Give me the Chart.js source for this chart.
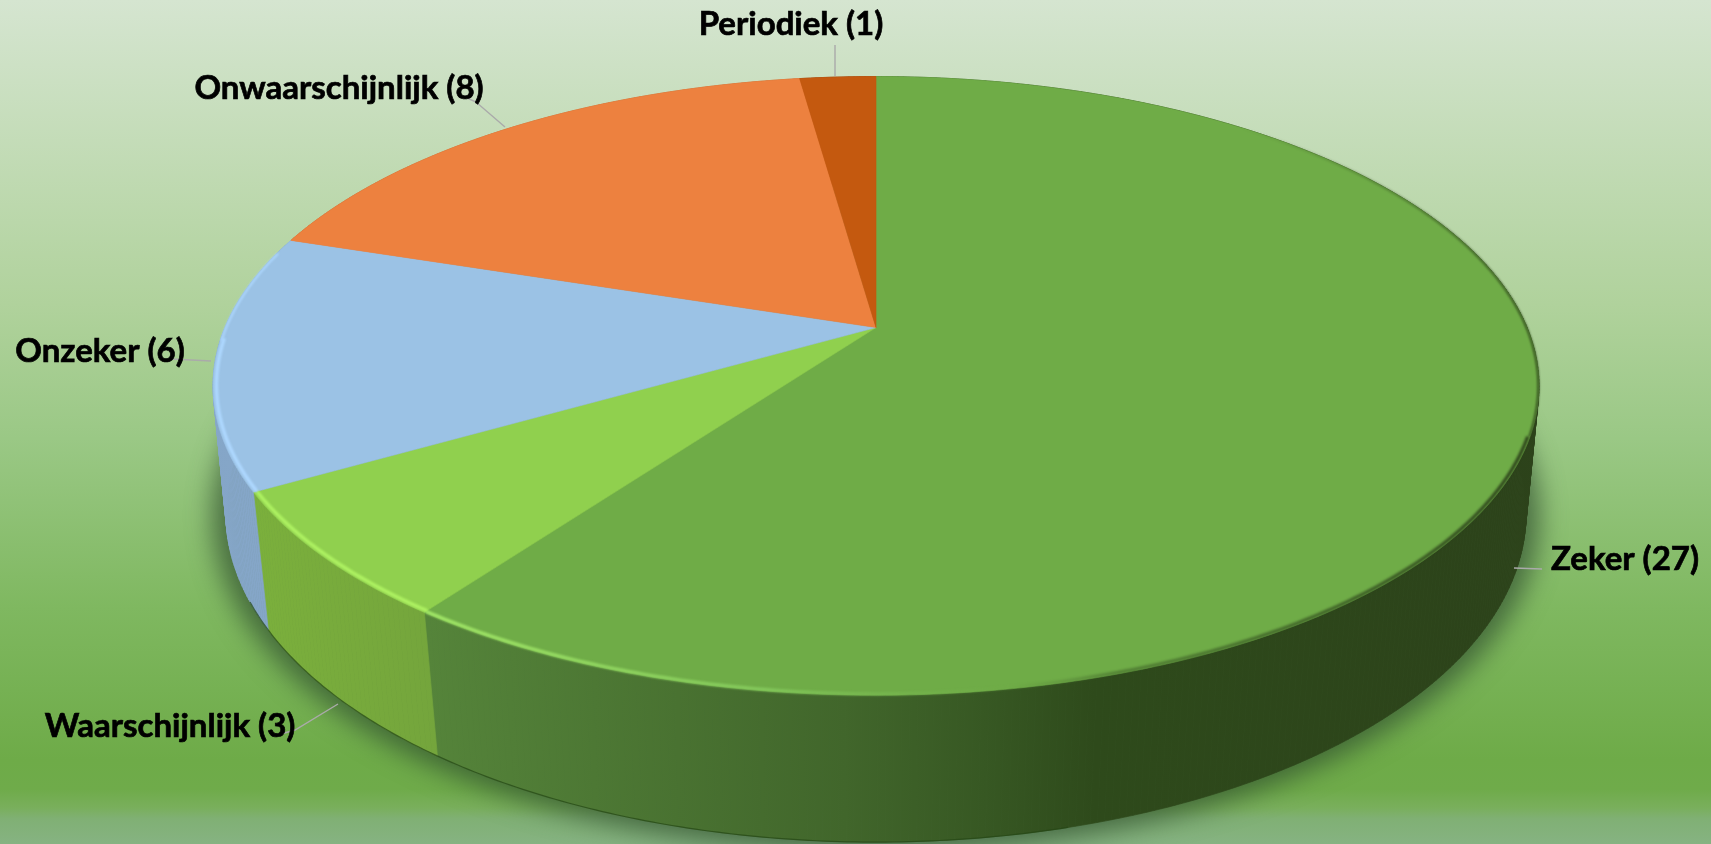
<!DOCTYPE html>
<html>
<head>
<meta charset="utf-8">
<title>Pie</title>
<script src="https://cdn.jsdelivr.net/npm/chart.js@4"></script>
<style>
  html, body { margin: 0; padding: 0; overflow: hidden; background: #7fb070; }
  canvas { display: block; }
</style>
</head>
<body>
<canvas id="pieChart" width="1711" height="844"></canvas>
<script>
// chart data
const categories = ['Zeker', 'Waarschijnlijk', 'Onzeker', 'Onwaarschijnlijk', 'Periodiek'];
const counts = [27, 3, 6, 8, 1];
const faceColors = ['#6fac47', '#90d04e', '#9bc2e5', '#ed813f', '#c4590f'];

// side wall colours, left to right
const wallColors = [
  [[0, '#55843a'], [0.375, '#41662b'], [0.5, '#375823'], [0.6, '#2e4a1b'], [1, '#2c421a']],
  [[0, '#7bb03c'], [1, '#74a53c']],
  [[0, '#85a6c8'], [1, '#85a6c8']],
  [[0, '#c06a30'], [1, '#c06a30']],
  [[0, '#8a400c'], [1, '#8a400c']]
];

// perspective of the top and bottom disc, as factors of the arc radius
const topDisc = { rx: 1.988, ry: 0.911, c: -0.1887, dy: 0 };
const bottomDisc = { rx: 1.954, ry: 0.973, c: -0.176, dy: 0.3905 };

// label centres and leader lines (chart pixels)
const labelCenters = [[1625, 559], [170, 726], [100, 351], [339, 88], [791, 24]];
const leaders = [
  [[1514, 568], [1542, 569]],
  [[338, 704], [295, 730], [281, 734]],
  [[172, 359], [211, 361]],
  [[465, 97], [476, 102], [505, 127]],
  [[835, 45], [835, 76]]
];

function project(arc, angle, disc, scale) {
  let ux = Math.cos(angle) * scale;
  let uy = Math.sin(angle) * scale;
  let den = 1 + disc.c * uy;
  return [
    arc.x + disc.rx * arc.outerRadius * ux / den,
    arc.y + disc.dy * arc.outerRadius + disc.ry * arc.outerRadius * uy / den
  ];
}

function rimPoints(arc, from, to, disc, scale) {
  let pts = [];
  let n = Math.max(2, Math.ceil(Math.abs(to - from) / 0.01));
  for (let i = 0; i <= n; i++) {
    pts.push(project(arc, from + (to - from) * i / n, disc, scale));
  }
  return pts;
}

function tracePath(ctx, pts) {
  ctx.moveTo(pts[0][0], pts[0][1]);
  for (let i = 1; i < pts.length; i++) {
    ctx.lineTo(pts[i][0], pts[i][1]);
  }
}

function xGradient(ctx, x0, x1, stops) {
  let g = ctx.createLinearGradient(x0, 0, x1, 0);
  stops.forEach(function (s) { g.addColorStop(s[0], s[1]); });
  return g;
}

const backgroundPlugin = {
  id: 'background',
  beforeDraw(chart) {
    const ctx = chart.ctx;
    let g = ctx.createLinearGradient(0, 0, 0, chart.height);
    g.addColorStop(0, '#d5e5d0');
    g.addColorStop(0.36, '#b0d29c');
    g.addColorStop(0.52, '#9ac885');
    g.addColorStop(0.72, '#7fb860');
    g.addColorStop(0.9, '#6eab48');
    g.addColorStop(0.935, '#6fab4a');
    g.addColorStop(0.957, '#79af5c');
    g.addColorStop(0.97, '#80b074');
    g.addColorStop(1, '#86b382');
    ctx.fillStyle = g;
    ctx.fillRect(0, 0, chart.width, chart.height);
  }
};

const perspectivePie = {
  id: 'perspectivePie',
  // the arcs come from the doughnut controller, only the drawing is replaced
  beforeDatasetDraw(chart) {
    const ctx = chart.ctx;
    const arcs = chart.getDatasetMeta(0).data;
    const first = arcs[0];

    // ground shadow
    ctx.save();
    ctx.filter = 'blur(13px)';
    ctx.fillStyle = 'rgba(45, 75, 45, 0.7)';
    ctx.beginPath();
    tracePath(ctx, rimPoints(first, 0, Math.PI * 2, bottomDisc, 1.02));
    ctx.fill();
    ctx.restore();

    // side walls, one quad per step so the outline follows the tangent
    arcs.forEach(function (arc, i) {
      let top = rimPoints(arc, arc.startAngle, arc.endAngle, topDisc, 1);
      let bottom = rimPoints(arc, arc.startAngle, arc.endAngle, bottomDisc, 1);
      let xs = top.concat(bottom).map(function (p) { return p[0]; });
      let paint = i === 0
        ? xGradient(ctx, 428, 1540, wallColors[i])
        : xGradient(ctx, Math.min.apply(null, xs), Math.max.apply(null, xs), wallColors[i]);
      ctx.fillStyle = paint;
      ctx.strokeStyle = paint;
      ctx.lineWidth = 0.7;
      for (let k = 0; k < top.length - 1; k++) {
        ctx.beginPath();
        tracePath(ctx, [top[k], top[k + 1], bottom[k + 1], bottom[k]]);
        ctx.closePath();
        ctx.fill();
        ctx.stroke();
      }
    });

    // thin dark line where the wall meets the ground
    ctx.strokeStyle = 'rgba(35, 70, 20, 0.7)';
    ctx.lineWidth = 1.2;
    ctx.beginPath();
    tracePath(ctx, rimPoints(first, Math.PI * 0.42, Math.PI * 0.86, bottomDisc, 1));
    ctx.stroke();

    // top face
    arcs.forEach(function (arc) {
      let rim = rimPoints(arc, arc.startAngle, arc.endAngle, topDisc, 1);
      let slice = [[arc.x, arc.y]].concat(rim);
      ctx.fillStyle = arc.options.backgroundColor;
      ctx.strokeStyle = arc.options.backgroundColor;
      ctx.lineWidth = 0.6;
      ctx.beginPath();
      tracePath(ctx, slice);
      ctx.closePath();
      ctx.fill();
      ctx.stroke();
    });

    // bevel on the rim
    ctx.save();
    ctx.filter = 'blur(1.2px)';
    ctx.lineWidth = 3.5;
    ctx.lineJoin = 'round';

    const z = arcs[0];
    // front of the big slice, light on the left and dark on the right
    ctx.strokeStyle = xGradient(ctx, 428, 1542, [
      [0, 'rgba(165, 235, 105, 0.95)'],
      [0.3, 'rgba(135, 205, 95, 0.85)'],
      [0.52, 'rgba(112, 172, 72, 0.3)'],
      [0.62, 'rgba(50, 80, 32, 0.45)'],
      [1, 'rgba(44, 66, 26, 0.95)']
    ]);
    ctx.beginPath();
    tracePath(ctx, rimPoints(z, 0.35, z.endAngle, topDisc, 0.997));
    ctx.stroke();

    // back right edge, fades out towards the top
    ctx.lineWidth = 2;
    ctx.strokeStyle = xGradient(ctx, 1240, 1542, [
      [0, 'rgba(44, 66, 26, 0)'],
      [0.6, 'rgba(44, 66, 26, 0.5)'],
      [1, 'rgba(44, 66, 26, 0.95)']
    ]);
    ctx.beginPath();
    tracePath(ctx, rimPoints(z, -1.0, 0.35, topDisc, 0.999));
    ctx.stroke();

    ctx.lineWidth = 3.5;
    const w = arcs[1];
    ctx.strokeStyle = '#aef262';
    ctx.beginPath();
    tracePath(ctx, rimPoints(w, w.startAngle, w.endAngle, topDisc, 0.995));
    ctx.stroke();

    const o = arcs[2];
    ctx.strokeStyle = '#aed8ff';
    ctx.beginPath();
    tracePath(ctx, rimPoints(o, o.startAngle, o.endAngle - 0.35, topDisc, 0.995));
    ctx.stroke();
    ctx.lineWidth = 2;
    ctx.beginPath();
    tracePath(ctx, rimPoints(o, o.endAngle - 0.36, o.endAngle - 0.05, topDisc, 0.998));
    ctx.stroke();
    ctx.restore();

    return false;
  },
  afterDatasetsDraw(chart) {
    const ctx = chart.ctx;
    // leader lines
    ctx.strokeStyle = '#aaaaaa';
    ctx.lineWidth = 1.4;
    leaders.forEach(function (line) {
      ctx.beginPath();
      tracePath(ctx, line);
      ctx.stroke();
    });
    // labels
    ctx.fillStyle = '#000000';
    ctx.strokeStyle = '#000000';
    ctx.lineWidth = 0.7;
    ctx.textAlign = 'center';
    ctx.textBaseline = 'middle';
    ctx.font = 'bold 33px Lato';
    categories.forEach(function (name, i) {
      let text = name + ' (' + counts[i] + ')';
      ctx.fillText(text, labelCenters[i][0], labelCenters[i][1]);
      ctx.strokeText(text, labelCenters[i][0], labelCenters[i][1]);
    });
  }
};

const pieChart = new Chart(document.getElementById('pieChart').getContext('2d'), {
  type: 'pie',
  data: {
    labels: categories,
    datasets: [{
      data: counts,
      backgroundColor: faceColors,
      borderWidth: 0
    }]
  },
  options: {
    responsive: false,
    animation: false,
    events: [],
    layout: { padding: { left: 41, bottom: 189 } },
    plugins: {
      legend: { display: false },
      tooltip: { enabled: false }
    }
  },
  plugins: [backgroundPlugin, perspectivePie]
});
</script>
</body>
</html>
